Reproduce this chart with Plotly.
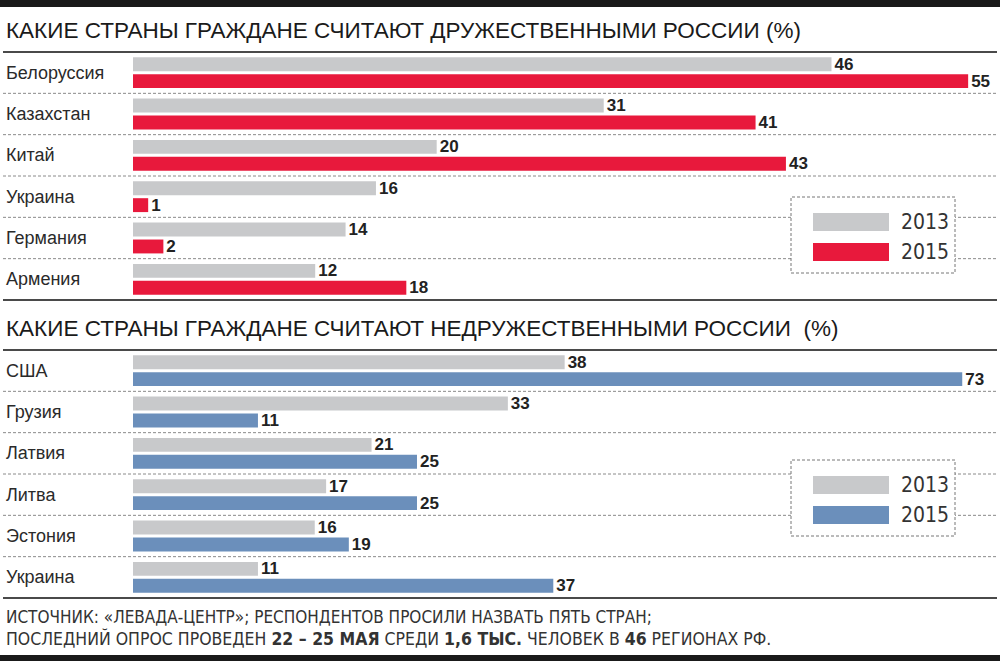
import plotly.graph_objects as go

# данные
friends = ["Белоруссия", "Казахстан", "Китай", "Украина", "Германия", "Армения"]
friends_2013 = [46, 31, 20, 16, 14, 12]
friends_2015 = [55, 41, 43, 1, 2, 18]

enemies = ["США", "Грузия", "Латвия", "Литва", "Эстония", "Украина"]
enemies_2013 = [38, 33, 21, 17, 16, 11]
enemies_2015 = [73, 11, 25, 25, 19, 37]

years = ["2013", "2015"]

title_top = "КАКИЕ СТРАНЫ ГРАЖДАНЕ СЧИТАЮТ ДРУЖЕСТВЕННЫМИ РОССИИ (%)"
title_bottom = "КАКИЕ СТРАНЫ ГРАЖДАНЕ СЧИТАЮТ НЕДРУЖЕСТВЕННЫМИ РОССИИ  (%)"
footer_1 = "ИСТОЧНИК: «ЛЕВАДА-ЦЕНТР»; РЕСПОНДЕНТОВ ПРОСИЛИ НАЗВАТЬ ПЯТЬ СТРАН;"
footer_2 = ("ПОСЛЕДНИЙ ОПРОС ПРОВЕДЕН <b>22 – 25 МАЯ</b> СРЕДИ <b>1,6 ТЫС.</b> "
            "ЧЕЛОВЕК В <b>46</b> РЕГИОНАХ РФ.")

GRAY = "#c8c9cb"
RED = "#e8193c"
BLUE = "#6b8fbb"
FONT = "Liberation Sans, Arial, sans-serif"
NARROW = "Liberation Sans Narrow, Arial Narrow, DejaVu Sans Condensed, sans-serif"

W, H = 1000, 665


def py(px):
    # пиксели сверху -> доля листа
    return 1 - px / H


top_dom = [py(300), py(52)]
bot_dom = [py(598), py(350)]

fig = go.Figure()


def add_bars(cats, v13, v15, color, ax):
    for vals, col, name in [(v13, GRAY, years[0]), (v15, color, years[1])]:
        fig.add_trace(go.Bar(
            y=cats, x=vals, name=name, orientation="h",
            marker=dict(color=col, line=dict(width=0)),
            text=vals, textposition="outside", constraintext="none",
            textfont=dict(family=FONT, size=17, color="#222"),
            texttemplate="<b>%{text}</b>",
            cliponaxis=False, showlegend=False,
            xaxis="x" + ax, yaxis="y" + ax, hoverinfo="skip",
        ))


add_bars(friends, friends_2013, friends_2015, RED, "")
add_bars(enemies, enemies_2013, enemies_2015, BLUE, "2")

axis_x = dict(showgrid=False, zeroline=False, showticklabels=False,
              ticks="", showline=False, fixedrange=True)
axis_y = dict(showgrid=False, zeroline=False, showticklabels=False,
              ticks="", showline=False, autorange="reversed", type="category")

fig.update_layout(
    width=W, height=H,
    margin=dict(l=0, r=0, t=0, b=0),
    paper_bgcolor="white", plot_bgcolor="white",
    barmode="group", bargap=0.18, bargroupgap=0.18,
    xaxis=dict(axis_x, domain=[0.133, 0.997], range=[0, 56.9], anchor="y"),
    yaxis=dict(axis_y, domain=top_dom, anchor="x"),
    xaxis2=dict(axis_x, domain=[0.133, 0.997], range=[0, 76.06], anchor="y2"),
    yaxis2=dict(axis_y, domain=bot_dom, anchor="x2"),
)

shapes = []
ann = []

# толстые чёрные полосы сверху и снизу
shapes.append(dict(type="rect", xref="paper", yref="paper", x0=0, x1=1,
                   y0=py(7), y1=1, fillcolor="#1a1a1a", line_width=0))
shapes.append(dict(type="rect", xref="paper", yref="paper", x0=0, x1=1,
                   y0=py(661), y1=py(655), fillcolor="#1a1a1a", line_width=0))

for dom, cats, title, ty in [(top_dom, friends, title_top, 30),
                             (bot_dom, enemies, title_bottom, 328)]:
    n = len(cats)
    step = (dom[1] - dom[0]) / n
    # линии над и под блоком
    for yy in (dom[0], dom[1]):
        shapes.append(dict(type="line", xref="paper", yref="paper",
                           x0=0.003, x1=0.997, y0=yy, y1=yy,
                           line=dict(color="#4a4a4a", width=2)))
    # пунктир между строками
    for k in range(1, n):
        yy = dom[1] - k * step
        shapes.append(dict(type="line", xref="paper", yref="paper",
                           x0=0.003, x1=0.997, y0=yy, y1=yy,
                           line=dict(color="#8a8a8a", width=1, dash="3px,2px")))
    ann.append(dict(text=title, xref="paper", yref="paper", x=0.004, y=py(ty),
                    xanchor="left", yanchor="middle", showarrow=False,
                    font=dict(family=FONT, size=22.5, color="#1a1a1a")))

for cats, yref in [(friends, "y"), (enemies, "y2")]:
    for c in cats:
        ann.append(dict(text=c, xref="paper", yref=yref, x=0.004, y=c,
                        xanchor="left", yanchor="middle", showarrow=False,
                        font=dict(family=FONT, size=18, color="#2a2a2a")))

# легенды
for top, color in [(197, RED), (460, BLUE)]:
    shapes.append(dict(type="rect", xref="paper", yref="paper",
                       x0=0.791, x1=0.955, y0=py(top + 76), y1=py(top),
                       fillcolor="white",
                       line=dict(color="#777", width=1, dash="3px,2px")))
    for i, (col, name) in enumerate([(GRAY, years[0]), (color, years[1])]):
        y0 = top + 16 + i * 30
        shapes.append(dict(type="rect", xref="paper", yref="paper",
                           x0=0.813, x1=0.889, y0=py(y0 + 18), y1=py(y0),
                           fillcolor=col, line_width=0))
        ann.append(dict(text=name, xref="paper", yref="paper", x=0.899,
                        y=py(y0 + 9), xanchor="left", yanchor="middle",
                        showarrow=False,
                        font=dict(family=NARROW, size=21, color="#333")))

ann.append(dict(text=footer_1, xref="paper", yref="paper", x=0.004, y=py(617),
                xanchor="left", yanchor="middle", showarrow=False,
                font=dict(family=NARROW, size=17, color="#333")))
ann.append(dict(text=footer_2, xref="paper", yref="paper", x=0.004, y=py(638),
                xanchor="left", yanchor="middle", showarrow=False,
                font=dict(family=NARROW, size=17.5, color="#333")))

fig.update_layout(shapes=shapes, annotations=ann)

fig.write_html("out.html", config={"displayModeBar": False},
               post_script="document.body.style.margin='0';"
                           "document.body.style.overflow='hidden';")
